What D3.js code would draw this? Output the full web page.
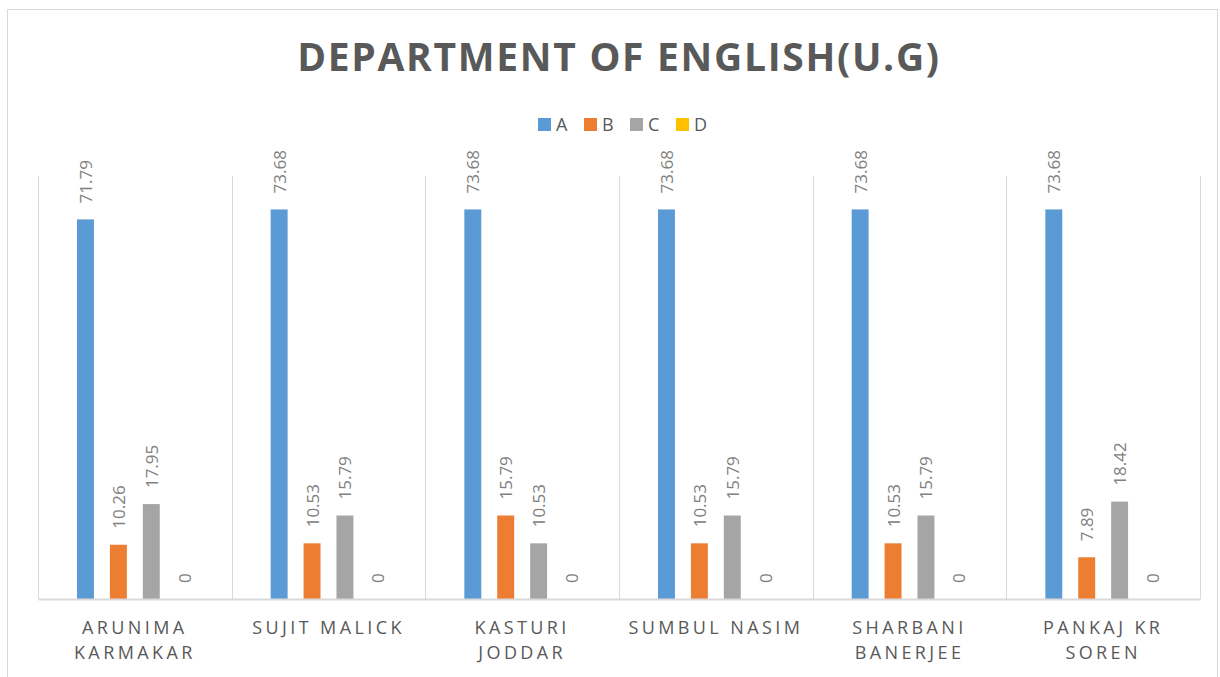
<!DOCTYPE html>
<html>
<head>
<meta charset="utf-8">
<script src="https://cdnjs.cloudflare.com/ajax/libs/d3/7.8.5/d3.min.js"></script>
<style>
  body { margin: 0; background: #fff; }
  text { font-family: "Open Sans", "Noto Sans", sans-serif; }
</style>
</head>
<body>
<div id="chart"></div>
<script>
    // chart data
    var teachers = ["ARUNIMA KARMAKAR", "SUJIT MALICK", "KASTURI JODDAR", "SUMBUL NASIM", "SHARBANI BANERJEE", "PANKAJ KR SOREN"];
    var grades = ["A", "B", "C", "D"];
    var gradeA = [71.79, 73.68, 73.68, 73.68, 73.68, 73.68];
    var gradeB = [10.26, 10.53, 15.79, 10.53, 10.53, 7.89];
    var gradeC = [17.95, 15.79, 10.53, 15.79, 15.79, 18.42];
    var gradeD = [0, 0, 0, 0, 0, 0];
    var colors = ["#5b9bd5", "#ed7d31", "#a5a5a5", "#ffc000"];

    var series = [gradeA, gradeB, gradeC, gradeD];
    var data = teachers.map(function (t, i) {
      return { name: t, values: grades.map(function (g, j) { return { grade: g, value: series[j][i] }; }) };
    });

    var W = 1220, H = 677;
    var margin = {top: 176, right: 20, bottom: 78, left: 38},
        width = 1200 - margin.left,
        height = 599 - margin.top;

    var root = d3.select("#chart").append("svg")
        .attr("width", W)
        .attr("height", H);

    // outer chart border
    root.append("rect")
        .attr("x", 7.5).attr("y", 9.5)
        .attr("width", 1210).attr("height", 680)
        .attr("fill", "none")
        .attr("stroke", "#d9d9d9");

    // title
    root.append("text")
        .attr("x", 619).attr("y", 71)
        .attr("text-anchor", "middle")
        .style("font-size", "39px")
        .style("font-weight", "bold")
        .style("letter-spacing", "1.7px")
        .style("fill", "#595959")
        .text("DEPARTMENT OF ENGLISH(U.G)");

    // legend
    var legend = root.append("g").attr("transform", "translate(538,118)");
    var li = legend.selectAll("g").data(grades).enter().append("g")
        .attr("transform", function (d, i) { return "translate(" + (i * 46) + ",0)"; });
    li.append("rect").attr("width", 13).attr("height", 13)
        .attr("fill", function (d, i) { return colors[i]; });
    li.append("text").attr("x", 18).attr("y", 13)
        .style("font-size", "18px").style("fill", "#595959")
        .text(function (d) { return d; });

    var svg = root.append("g")
        .attr("transform", "translate(" + margin.left + "," + margin.top + ")");

    var x0 = d3.scaleBand()
        .domain(teachers)
        .range([0, width]);

    var x1 = d3.scaleBand()
        .domain(grades)
        .range([39, x0.bandwidth() - 39])
        .paddingInner(0.485)
        .paddingOuter(0);

    var y = d3.scaleLinear()
        .domain([0, 80])
        .range([height, 0]);

    // category separators
    svg.append("g").selectAll("line")
        .data(d3.range(teachers.length + 1))
        .enter().append("line")
        .attr("x1", function (i) { return Math.round(i * x0.bandwidth()) + 0.5; })
        .attr("x2", function (i) { return Math.round(i * x0.bandwidth()) + 0.5; })
        .attr("y1", 0).attr("y2", height)
        .attr("stroke", "#d9d9d9");

    // bars
    var groups = svg.append("g").selectAll("g")
        .data(data)
        .enter().append("g")
        .attr("transform", function (d) { return "translate(" + x0(d.name) + ",0)"; });

    groups.selectAll("rect")
        .data(function (d) { return d.values; })
        .enter().append("rect")
        .attr("x", function (d) { return x1(d.grade); })
        .attr("width", x1.bandwidth())
        .attr("y", function (d) { return y(d.value); })
        .attr("height", function (d) { return height - y(d.value); })
        .attr("fill", function (d, i) { return colors[i]; });

    // value labels
    groups.selectAll("text")
        .data(function (d) { return d.values; })
        .enter().append("text")
        .attr("transform", function (d) {
          return "translate(" + (x1(d.grade) + x1.bandwidth() / 2 + 6.5) + "," + (y(d.value) - 16) + ") rotate(-90)";
        })
        .style("font-size", "17px")
        .style("fill", "#808080")
        .text(function (d) { return d.value; });

    // x axis
    var xAxis = svg.append("g")
        .attr("transform", "translate(0," + height + ")")
        .call(d3.axisBottom(x0).tickSize(0).tickPadding(22));
    xAxis.select(".domain").attr("stroke", "#d9d9d9").attr("stroke-width", 2);
    xAxis.selectAll("text")
        .style("font-size", "18px")
        .style("letter-spacing", "3.4px")
        .style("fill", "#595959")
        .call(wrap, 182);

    function wrap(text, w) {
      text.each(function () {
        var t = d3.select(this),
            words = t.text().split(/\s+/),
            yy = t.attr("y"),
            dy = parseFloat(t.attr("dy")),
            line = [];
        t.text(null);
        var tspan = t.append("tspan").attr("x", 0).attr("y", yy).attr("dy", dy + "em");
        var n = 0;
        words.forEach(function (word) {
          line.push(word);
          tspan.text(line.join(" "));
          if (tspan.node().getComputedTextLength() > w && line.length > 1) {
            line.pop();
            tspan.text(line.join(" "));
            line = [word];
            n++;
            tspan = t.append("tspan").attr("x", 0).attr("y", yy)
              .attr("dy", (dy + n * 1.39) + "em").text(word);
          }
        });
      });
    }
</script>
</body>
</html>
